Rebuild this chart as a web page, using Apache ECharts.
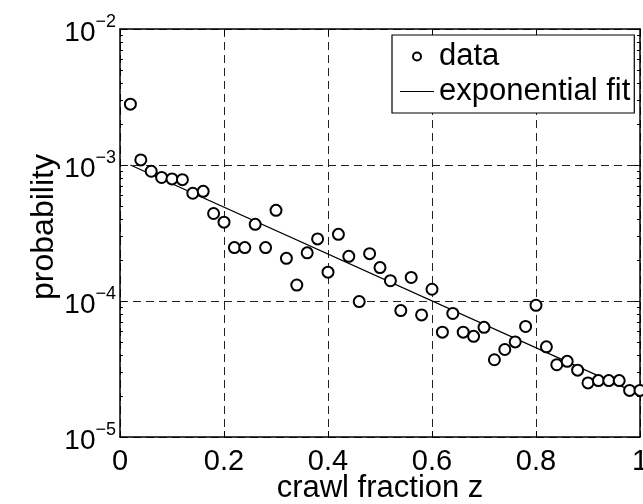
<!DOCTYPE html>
<html>
<head>
<meta charset="UTF-8">
<title>crawl fraction</title>
<script src="https://cdn.jsdelivr.net/npm/echarts@6/dist/echarts.min.js"></script>
</head>
<body style="margin:0;background:#fff;">
<div id="chart1" style="width:643px;height:504px;"></div>
<script type="text/javascript">
// crawl fraction z (x) and measured probability (circles)
var zValues = [0.02, 0.04, 0.06, 0.08, 0.10, 0.12, 0.14, 0.16, 0.18, 0.20,
               0.22, 0.24, 0.26, 0.28, 0.30, 0.32, 0.34, 0.36, 0.38, 0.40,
               0.42, 0.44, 0.46, 0.48, 0.50, 0.52, 0.54, 0.56, 0.58, 0.60,
               0.62, 0.64, 0.66, 0.68, 0.70, 0.72, 0.74, 0.76, 0.78, 0.80,
               0.82, 0.84, 0.86, 0.88, 0.90, 0.92, 0.94, 0.96, 0.98, 1.00];
var probValues = [2.8e-3, 1.09e-3, 9.0e-4, 8.1e-4, 7.9e-4, 7.8e-4, 6.2e-4, 6.4e-4, 4.4e-4, 3.8e-4,
                  2.47e-4, 2.47e-4, 3.66e-4, 2.47e-4, 4.64e-4, 2.06e-4, 1.31e-4, 2.26e-4, 2.86e-4, 1.63e-4,
                  3.09e-4, 2.13e-4, 9.9e-5, 2.23e-4, 1.76e-4, 1.41e-4, 8.5e-5, 1.49e-4, 7.9e-5, 1.22e-4,
                  5.9e-5, 8.1e-5, 5.9e-5, 5.5e-5, 6.4e-5, 3.7e-5, 4.4e-5, 5.0e-5, 6.5e-5, 9.3e-5,
                  4.6e-5, 3.4e-5, 3.6e-5, 3.1e-5, 2.5e-5, 2.6e-5, 2.6e-5, 2.6e-5, 2.2e-5, 2.2e-5];
// exponential fit, straight on the log axis, so its two ends are enough
var fitZ = [0.02, 1.0];
var fitProb = [1.0e-3, 2.05e-5];

var yDecades = [1e-5, 1e-4, 1e-3, 1e-2];

// minor ticks 2..9 inside each decade
var minorY = [];
for (var d = 0; d < 3; d++) {
	for (var m = 2; m <= 9; m++) {
		minorY.push(m * yDecades[d]);
	}
}

var fontName = 'Liberation Sans';

var chart1 = echarts.init(document.getElementById("chart1"));

function yLabel(v) {
	var e = Math.round(Math.log10(v));
	return '{b|10}{s|\u2212' + Math.abs(e) + '}';
}

var frameLine = { show: true, lineStyle: { color: '#000', width: 1.5 } };
var gridDash = { show: true, lineStyle: { color: '#222', type: [8, 5], width: 1 } };

var option = {
	backgroundColor: '#fff',
	animation: false,
	textStyle: { fontFamily: fontName, color: '#000' },
	grid: { left: 120, right: 3, top: 29, bottom: 67, outerBoundsMode: 'none' },
	legend: {
		orient: 'vertical',
		left: 392,
		top: 35,
		backgroundColor: '#fff',
		borderColor: '#000',
		borderWidth: 1.2,
		padding: [6, 4, 6, 8],
		itemGap: 4,
		itemWidth: 34,
		itemHeight: 8,
		textStyle: { fontFamily: fontName, fontSize: 31, color: '#000' },
		data: [
			{ name: 'data', icon: 'emptyCircle' },
			{ name: 'exponential fit', icon: 'path://M0,0L34,0L34,1.2L0,1.2Z' }
		]
	},
	xAxis: [{
		type: 'value',
		min: 0,
		max: 1,
		interval: 0.2,
		position: 'bottom',
		name: 'crawl fraction z',
		nameLocation: 'middle',
		nameGap: 36,
		nameMoveOverlap: false,
		nameTextStyle: { fontFamily: fontName, fontSize: 31, color: '#000' },
		axisLine: frameLine,
		axisTick: { show: true, inside: true, length: 6, lineStyle: { color: '#000' } },
		axisLabel: { fontFamily: fontName, fontSize: 29, color: '#000', margin: 10 },
		splitLine: gridDash
	}, {
		type: 'value',
		min: 0,
		max: 1,
		interval: 0.2,
		position: 'top',
		axisLine: frameLine,
		axisTick: { show: true, inside: true, length: 6, lineStyle: { color: '#000' } },
		axisLabel: { show: false },
		splitLine: { show: false }
	}],
	yAxis: [{
		type: 'log',
		logBase: 10,
		min: 1e-5,
		max: 1e-2,
		position: 'left',
		name: 'probability',
		nameLocation: 'middle',
		nameGap: 60,
		nameMoveOverlap: false,
		nameTextStyle: { fontFamily: fontName, fontSize: 32, color: '#000', padding: [0, 0, 0, 12] },
		axisLine: frameLine,
		axisTick: { show: true, inside: true, length: 6, customValues: yDecades, lineStyle: { color: '#000' } },
		axisLabel: {
			customValues: yDecades,
			margin: 4,
			padding: [3, 0, 0, 0],
			formatter: yLabel,
			rich: {
				b: { fontFamily: fontName, fontSize: 28, color: '#000', lineHeight: 34, verticalAlign: 'bottom' },
				s: { fontFamily: fontName, fontSize: 18, color: '#000', lineHeight: 34, verticalAlign: 'top' }
			}
		},
		splitLine: gridDash
	}, {
		type: 'log',
		logBase: 10,
		min: 1e-5,
		max: 1e-2,
		position: 'left',
		axisLine: { show: false },
		axisTick: { show: true, inside: true, length: 3, customValues: minorY, lineStyle: { color: '#000' } },
		axisLabel: { show: false },
		splitLine: { show: false }
	}, {
		type: 'log',
		logBase: 10,
		min: 1e-5,
		max: 1e-2,
		position: 'right',
		axisLine: frameLine,
		axisTick: { show: true, inside: true, length: 6, customValues: yDecades, lineStyle: { color: '#000' } },
		axisLabel: { show: false },
		splitLine: { show: false }
	}, {
		type: 'log',
		logBase: 10,
		min: 1e-5,
		max: 1e-2,
		position: 'right',
		axisLine: { show: false },
		axisTick: { show: true, inside: true, length: 3, customValues: minorY, lineStyle: { color: '#000' } },
		axisLabel: { show: false },
		splitLine: { show: false }
	}],
	series: [{
		name: 'data',
		type: 'scatter',
		symbol: 'emptyCircle',
		symbolSize: 11,
		itemStyle: { color: '#000', opacity: 1, borderWidth: 1 },
		data: zValues.map(function (z, i) { return [z, probValues[i]]; }),
		z: 3
	}, {
		name: 'exponential fit',
		type: 'line',
		symbol: 'none',
		lineStyle: { color: '#000', width: 1.3 },
		itemStyle: { color: '#000' },
		data: fitZ.map(function (z, i) { return [z, fitProb[i]]; }),
		z: 2
	}]
};

chart1.setOption(option);
</script>
</body>
</html>
